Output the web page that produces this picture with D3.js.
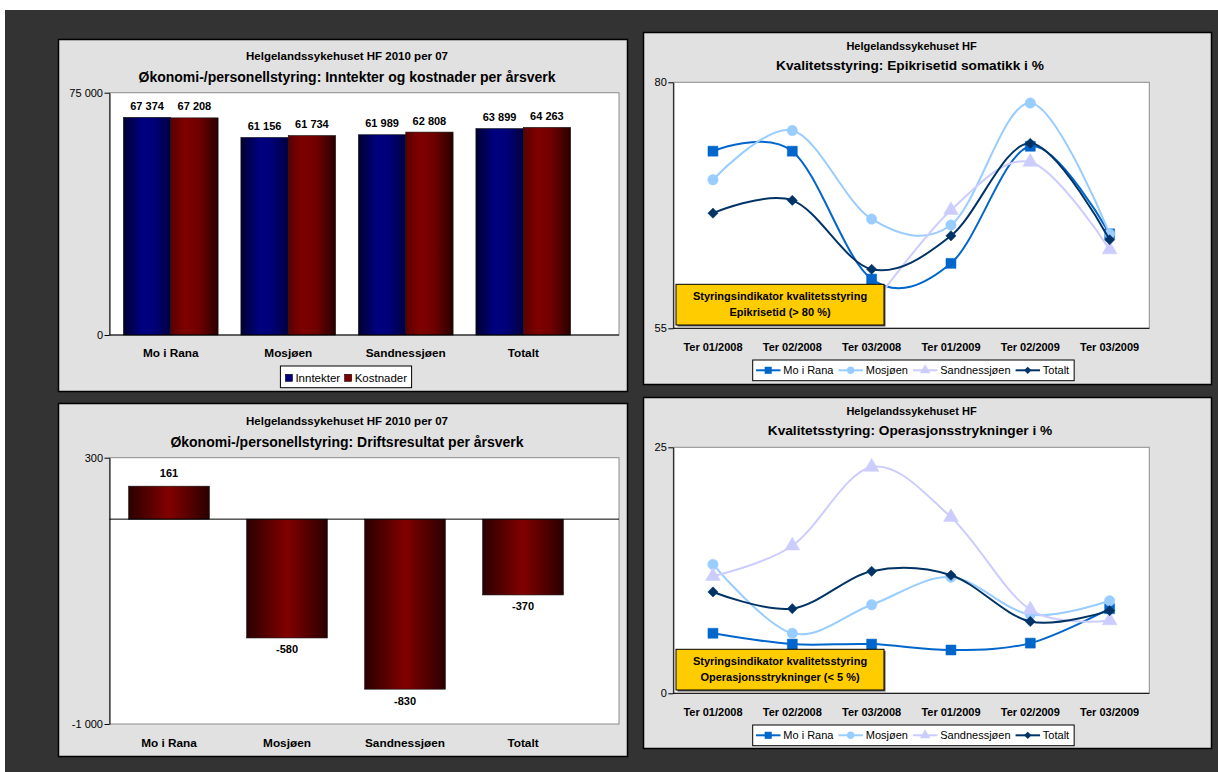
<!DOCTYPE html>
<html><head><meta charset="utf-8">
<script src="https://cdn.jsdelivr.net/npm/d3@7"></script>
<style>
body{margin:0;background:#fff}
svg{display:block;font-family:"Liberation Sans",Arial,sans-serif}
</style>
</head><body><svg id="c" width="1218" height="772"></svg>
<script>
// ---------- DATA ----------
const barCategories = ["Mo i Rana", "Mosjøen", "Sandnessjøen", "Totalt"];
const barSeries = ["Inntekter", "Kostnader"];
const inntekter = [67374, 61156, 61989, 63899];
const kostnader = [67208, 61734, 62808, 64263];
const driftsresultat = [161, -580, -830, -370];
const barTicks = [0, 75000];
const resultTicks = [-1000, 300];

const periods = ["Ter 01/2008", "Ter 02/2008", "Ter 03/2008", "Ter 01/2009", "Ter 02/2009", "Ter 03/2009"];
const lineSeries = ["Mo i Rana", "Mosjøen", "Sandnessjøen", "Totalt"];
const epikMoIRana      = [73.0, 73.0, 60.0, 61.6, 73.5, 64.6];
const epikMosjoen      = [70.1, 75.1, 66.1, 65.5, 77.9, 64.6];
const epikSandnessjoen = [null, null, 57.2, 67.0, 71.9, 63.0];
const epikTotalt       = [66.7, 68.0, 61.0, 64.4, 73.8, 64.0];
const epikTicks = [55, 80];
const operMoIRana      = [6.1, 5.0, 5.0, 4.4, 5.1, 8.6];
const operMosjoen      = [13.1, 6.1, 9.0, 11.8, 8.0, 9.4];
const operSandnessjoen = [11.9, 15.0, 23.0, 17.9, 8.5, 7.4];
const operTotalt       = [10.3, 8.6, 12.4, 12.0, 7.3, 8.4];
const operTicks = [0, 25];

// ---------- SETUP ----------
const svg = d3.select("#c");
const FONT = '"Liberation Sans", Arial, sans-serif';
const loc = d3.formatLocale({decimal: ",", thousands: " ", grouping: [3], currency: ["", ""], minus: "-"});
const fmt = loc.format(",d");

svg.append("rect").attr("x", 5).attr("y", 10).attr("width", 1213).attr("height", 762).attr("fill", "#333");

const defs = svg.append("defs");
function grad(id, stops) {
  const g = defs.append("linearGradient").attr("id", id).attr("x1", 0).attr("x2", 1).attr("y1", 0).attr("y2", 0);
  stops.forEach(([o, c]) => g.append("stop").attr("offset", o).attr("stop-color", c));
}
grad("gBlue", [[0, "#000030"], [0.4, "#000082"], [0.65, "#000078"], [1, "#000040"]]);
grad("gRed", [[0, "#5a0000"], [0.3, "#800000"], [0.6, "#700000"], [1, "#280000"]]);
grad("gRedSym", [[0, "#2a0000"], [0.5, "#820000"], [1, "#2a0000"]]);

function panel(x, y, w, h) {
  svg.append("rect").attr("x", x).attr("y", y).attr("width", w).attr("height", h)
    .attr("fill", "#e1e1e1").attr("stroke", "#000").attr("stroke-width", 1.5);
}
function text(x, y, s, size, weight, anchor) {
  return svg.append("text").attr("x", x).attr("y", y).attr("dominant-baseline", "central")
    .attr("text-anchor", anchor || "middle").attr("font-size", size).attr("font-weight", weight || "normal")
    .attr("fill", "#000").text(s);
}
function plotRect(l, t, r, b) {
  svg.append("rect").attr("x", l).attr("y", t).attr("width", r - l).attr("height", b - t)
    .attr("fill", "#fff").attr("stroke", "#8c8c8c").attr("stroke-width", 1);
}
function yAxis(y, x, ticks) {
  const g = svg.append("g").attr("transform", `translate(${x},0)`)
    .call(d3.axisLeft(y).tickValues(ticks).tickFormat(fmt).tickSize(5).tickSizeOuter(0).tickPadding(1.5));
  g.selectAll("text").attr("font-size", 11).attr("font-family", FONT).attr("fill", "#000");
  g.selectAll("line,path").attr("stroke", "#000");
}

// ---------- PANELS ----------
panel(58.5, 39.5, 569, 352);
panel(58.5, 403.5, 569, 353);
panel(643.5, 32.5, 568, 352);
panel(643.5, 397.5, 568, 351);

// ---------- CHART 1: Inntekter og kostnader ----------
(function () {
  const L = 109.5, T = 92.7, R = 619, B = 335;
  text(347, 56, "Helgelandssykehuset HF 2010 per 07", 11.5, "bold");
  text(347, 76.7, "Økonomi-/personellstyring: Inntekter og kostnader per årsverk", 14, "bold");
  plotRect(L, T, R, B);
  const y = d3.scaleLinear().domain([0, 75000]).range([B, T]);
  const x = d3.scaleBand().domain(barCategories).range([112, 582]).paddingInner(0.194).paddingOuter(0.097);
  const xs = d3.scaleBand().domain(barSeries).range([0, x.bandwidth()]);
  const vals = {Inntekter: inntekter, Kostnader: kostnader};
  const fills = {Inntekter: "url(#gBlue)", Kostnader: "url(#gRed)"};
  barSeries.forEach(s => {
    barCategories.forEach((c, i) => {
      const v = vals[s][i];
      const bx = x(c) + xs(s);
      svg.append("rect").attr("x", bx).attr("y", y(v)).attr("width", xs.bandwidth()).attr("height", y(0) - y(v))
        .attr("fill", fills[s]).attr("stroke", "#111").attr("stroke-width", 0.6);
      text(bx + xs.bandwidth() / 2, y(v) - 11.5, fmt(v), 11, "bold");
    });
  });
  yAxis(y, L, barTicks);
  svg.append("line").attr("x1", L).attr("x2", R).attr("y1", y(0)).attr("y2", y(0)).attr("stroke", "#000");
  barCategories.forEach(c => text(x(c) + x.bandwidth() / 2, 352.7, c, 11.8, "bold"));
  // legend
  const lg = svg.append("g");
  const box = lg.append("rect").attr("fill", "#fff").attr("stroke", "#000").attr("stroke-width", 1);
  let cx = 5;
  const items = [];
  barSeries.forEach(s => {
    const sw = lg.append("rect").attr("y", 374.3).attr("width", 7).attr("height", 7)
      .attr("fill", s === "Inntekter" ? "#000080" : "#800000").attr("stroke", "#000").attr("stroke-width", 0.6);
    const t = lg.append("text").attr("y", 377.5).attr("dominant-baseline", "central").attr("font-size", 11.5).text(s);
    items.push([sw, t]);
  });
  items.forEach(([sw, t]) => {
    sw.attr("x", cx); cx += 10;
    t.attr("x", cx); cx += t.node().getComputedTextLength() + 4.5;
  });
  const bw = cx;
  const bx0 = 346 - bw / 2;
  lg.attr("transform", `translate(${bx0},0)`);
  box.attr("x", 0).attr("y", 366).attr("width", bw).attr("height", 21.7);
})();

// ---------- CHART 2: Driftsresultat ----------
(function () {
  const L = 109.5, T = 457.7, R = 619, B = 724;
  text(347, 421, "Helgelandssykehuset HF 2010 per 07", 11.5, "bold");
  text(347, 441.7, "Økonomi-/personellstyring: Driftsresultat per årsverk", 14, "bold");
  plotRect(L, T, R, B);
  const y = d3.scaleLinear().domain([-1000, 300]).range([B, T]);
  const x = d3.scaleBand().domain(barCategories).range([110, 582]).paddingInner(0.316).paddingOuter(0.158);
  barCategories.forEach((c, i) => {
    const v = driftsresultat[i];
    const top = Math.min(y(v), y(0)), h = Math.abs(y(v) - y(0));
    svg.append("rect").attr("x", x(c)).attr("y", top).attr("width", x.bandwidth()).attr("height", h)
      .attr("fill", "url(#gRedSym)").attr("stroke", "#111").attr("stroke-width", 0.6);
    const ly = v >= 0 ? y(v) - 13.3 : y(v) + 11.5;
    text(x(c) + x.bandwidth() / 2, ly, fmt(v), 11, "bold");
  });
  svg.append("line").attr("x1", L).attr("x2", R).attr("y1", y(0)).attr("y2", y(0)).attr("stroke", "#000");
  yAxis(y, L, resultTicks);
  barCategories.forEach(c => text(x(c) + x.bandwidth() / 2, 742.7, c, 11.8, "bold"));
})();

// ---------- LINE CHARTS ----------
const lineColors = ["#0066cc", "#99ccff", "#ccccff", "#003366"];
const lineSymbols = [d3.symbolSquare, d3.symbolCircle, d3.symbolTriangle, d3.symbolSquare];
const symSizes = [100, 85, 95, 52];
const symRotate = [0, 0, 0, 45];

function lineChart(cfg) {
  const L = 673.3, R = 1149.3, T = cfg.top, B = cfg.bottom;
  text(911.5, cfg.subY, "Helgelandssykehuset HF", 11, "bold");
  text(910, cfg.titleY, cfg.title, 13.7, "bold");
  plotRect(L, T, R, B);
  const x = d3.scaleBand().domain(periods).range([L, R]);
  const y = d3.scaleLinear().domain(cfg.domain).range([B, T]);
  const px = i => x(periods[i]) + x.bandwidth() / 2;
  yAxis(y, L, cfg.ticks);
  svg.append("line").attr("x1", L).attr("x2", R).attr("y1", B).attr("y2", B).attr("stroke", "#000");
  const line = d3.line().defined(d => d != null).x((d, i) => px(i)).y(d => y(d)).curve(d3.curveCardinal.tension(0));
  cfg.data.forEach((arr, k) => {
    svg.append("path").attr("d", line(arr)).attr("fill", "none").attr("stroke", lineColors[k]).attr("stroke-width", 2);
    arr.forEach((v, i) => {
      if (v == null) return;
      svg.append("path").attr("d", d3.symbol(lineSymbols[k], symSizes[k])())
        .attr("transform", `translate(${px(i)},${y(v)}) rotate(${symRotate[k]})`)
        .attr("fill", lineColors[k]).attr("stroke", lineColors[k]).attr("stroke-width", 0.5);
    });
  });
  periods.forEach((p, i) => text(px(i), cfg.catY, p, 11, "bold"));
  // annotation box
  const ab = cfg.note;
  svg.append("rect").attr("x", 677.5).attr("y", ab.y + 1.5).attr("width", 208).attr("height", 40.7).attr("fill", "#555");
  svg.append("rect").attr("x", 676).attr("y", ab.y).attr("width", 208).attr("height", 40.7)
    .attr("fill", "#ffcc00").attr("stroke", "#000").attr("stroke-width", 1);
  text(780, ab.y + 11.7, ab.lines[0], 11, "bold");
  text(780, ab.y + 27.4, ab.lines[1], 11, "bold");
  // legend
  const lg = svg.append("g");
  const box = lg.append("rect").attr("fill", "#fff").attr("stroke", "#000").attr("stroke-width", 1);
  const cy = cfg.legY + 10.3;
  let cx = 3.3;
  lineSeries.forEach((s, k) => {
    lg.append("line").attr("x1", cx).attr("x2", cx + 24.5).attr("y1", cy).attr("y2", cy).attr("stroke", lineColors[k]).attr("stroke-width", 2);
    lg.append("path").attr("d", d3.symbol(lineSymbols[k], symSizes[k] * 0.5)())
      .attr("transform", `translate(${cx + 12.2},${cy}) rotate(${symRotate[k]})`)
      .attr("fill", lineColors[k]);
    cx += 27.3;
    const t = lg.append("text").attr("x", cx).attr("y", cy).attr("dominant-baseline", "central").attr("font-size", 11).text(s);
    cx += t.node().getComputedTextLength() + 5;
  });
  lg.attr("transform", `translate(752.7,0)`);
  box.attr("x", 0).attr("y", cfg.legY).attr("width", cx).attr("height", 20.7);
}

lineChart({
  top: 82.3, bottom: 328.3, subY: 45.7, titleY: 65.7, catY: 346.7, legY: 360,
  title: "Kvalitetsstyring: Epikrisetid somatikk i %", domain: [55, 80], ticks: epikTicks,
  data: [epikMoIRana, epikMosjoen, epikSandnessjoen, epikTotalt],
  note: {y: 284.3, lines: ["Styringsindikator kvalitetsstyring", "Epikrisetid (> 80 %)"]}
});
lineChart({
  top: 447.3, bottom: 693.3, subY: 410.7, titleY: 430.7, catY: 711.7, legY: 725,
  title: "Kvalitetsstyring: Operasjonsstrykninger i %", domain: [0, 25], ticks: operTicks,
  data: [operMoIRana, operMosjoen, operSandnessjoen, operTotalt],
  note: {y: 649.3, lines: ["Styringsindikator kvalitetsstyring", "Operasjonsstrykninger (< 5 %)"]}
});
</script>
</body></html>
